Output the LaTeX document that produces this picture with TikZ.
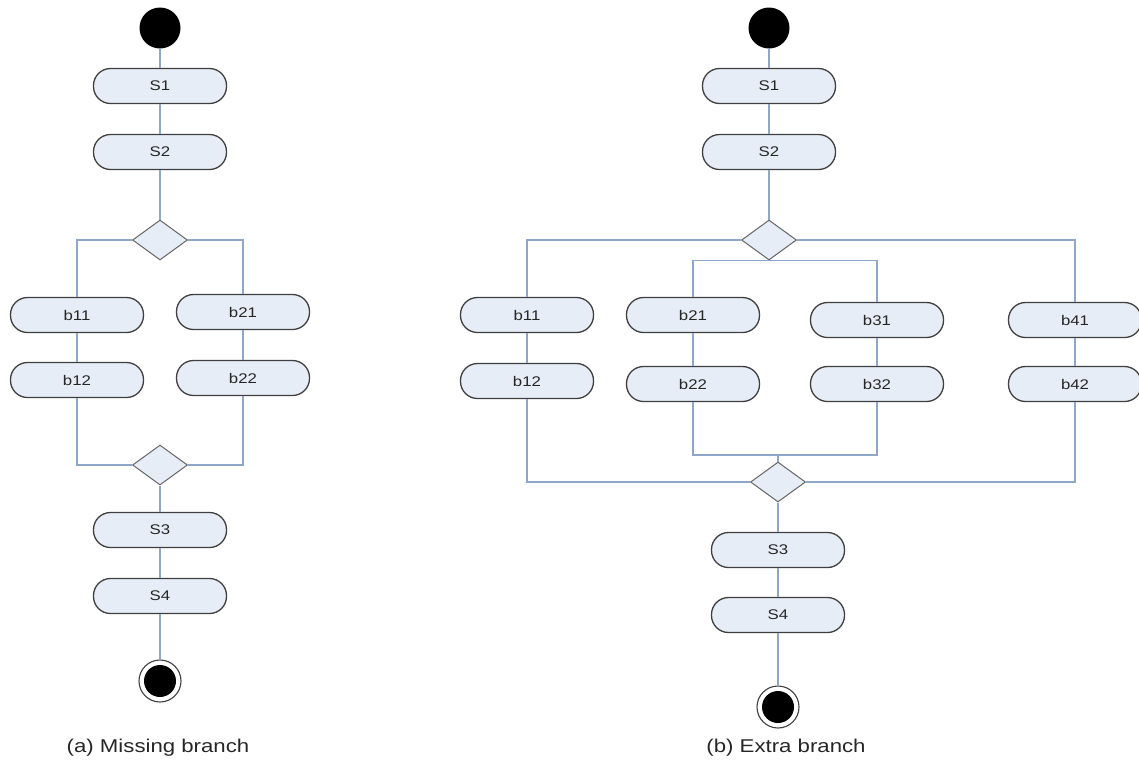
\documentclass[tikz,border=0pt]{standalone}
\usepackage{fontspec}
\setmainfont{Liberation Sans}[FakeStretch=1.2]
\usetikzlibrary{shapes.geometric}
\definecolor{boxfill}{HTML}{E7EDF6}
\definecolor{boxline}{HTML}{3F3F3F}
\definecolor{conn}{HTML}{8DA6CA}
\tikzset{
  act/.style={draw=boxline, line width=1.3pt, fill=boxfill, rounded corners=17pt,
    minimum width=133pt, minimum height=35pt, inner sep=0pt, font=\fontsize{14}{16}\selectfont, text=black!85},
  decis/.style={diamond, draw=boxline!80, line width=1pt, fill=boxfill, minimum width=55pt,
    minimum height=40pt, shape aspect=1.375, inner sep=0pt},
  startnode/.style={circle, fill=black, minimum size=41pt, inner sep=0pt},
  endouter/.style={circle, draw=boxline, line width=1.1pt, fill=white, minimum size=42pt, inner sep=0pt},
  endinner/.style={circle, fill=black, minimum size=32pt, inner sep=0pt},
  flow/.style={draw=conn, line width=1.7pt},
  caption/.style={font=\fontsize{18.5}{21}\selectfont, text=black!85}
}
\begin{document}
\begin{tikzpicture}[x=1pt,y=-1pt]
\useasboundingbox (0,0) rectangle (1139,769);
% ---------- (a) ----------
\node[startnode] (aStart) at (160,28) {};
\node[act] (aS1) at (160,86) {S1};
\node[act] (aS2) at (160,152) {S2};
\node[decis] (aD) at (160,240) {};
\node[act] (ab11) at (77,315) {b11};
\node[act] (ab12) at (77,380) {b12};
\node[act] (ab21) at (243,312) {b21};
\node[act] (ab22) at (243,378) {b22};
\node[decis] (aM) at (160,465) {};
\node[act] (aS3) at (160,530) {S3};
\node[act] (aS4) at (160,596) {S4};
\node[endouter] (aEnd) at (160,681) {};
\node[endinner] (aEndIn) at (aEnd) {};
\node[caption] (aCap) at (158,748) {(a) Missing branch};
% ---------- (b) ----------
\node[startnode] (bStart) at (769,28) {};
\node[act] (bS1) at (769,86) {S1};
\node[act] (bS2) at (769,152) {S2};
\node[decis] (bD) at (769,240) {};
\node[act] (bb11) at (527,315) {b11};
\node[act] (bb12) at (527,381) {b12};
\node[act] (bb21) at (693,315) {b21};
\node[act] (bb22) at (693,384) {b22};
\node[act] (bb31) at (877,320) {b31};
\node[act] (bb32) at (877,384) {b32};
\node[act] (bb41) at (1075,320) {b41};
\node[act] (bb42) at (1075,384) {b42};
\node[decis] (bM) at (778,482) {};
\coordinate (bJ) at (778,455);
\node[act] (bS3) at (778,550) {S3};
\node[act] (bS4) at (778,615) {S4};
\node[endouter] (bEnd) at (778,707) {};
\node[endinner] (bEndIn) at (bEnd) {};
\node[caption] (bCap) at (786,748) {(b) Extra branch};
% ---------- connectors ----------
\begin{scope}[flow]
\draw (aStart) -- (aS1);
\draw (aS1) -- (aS2);
\draw (aS2) -- (aD);
\draw (aD.west) -| (ab11);
\draw (aD.east) -| (ab21);
\draw (ab11) -- (ab12);
\draw (ab21) -- (ab22);
\draw (ab12) |- (aM.west);
\draw (ab22) |- (aM.east);
\draw (aM) -- (aS3);
\draw (aS3) -- (aS4);
\draw (aS4) -- (aEnd);
\draw (bStart) -- (bS1);
\draw (bS1) -- (bS2);
\draw (bS2) -- (bD);
\draw (bD.west) -| (bb11);
\draw (bD.east) -| (bb41);
\draw (bb21) |- (bD.south) -| (bb31);
\draw (bb11) -- (bb12);
\draw (bb21) -- (bb22);
\draw (bb31) -- (bb32);
\draw (bb41) -- (bb42);
\draw (bb22) |- (bJ) -| (bb32);
\draw (bJ) -- (bM);
\draw (bb12) |- (bM.west);
\draw (bb42) |- (bM.east);
\draw (bM) -- (bS3);
\draw (bS3) -- (bS4);
\draw (bS4) -- (bEnd);
\end{scope}
\end{tikzpicture}
\end{document}
